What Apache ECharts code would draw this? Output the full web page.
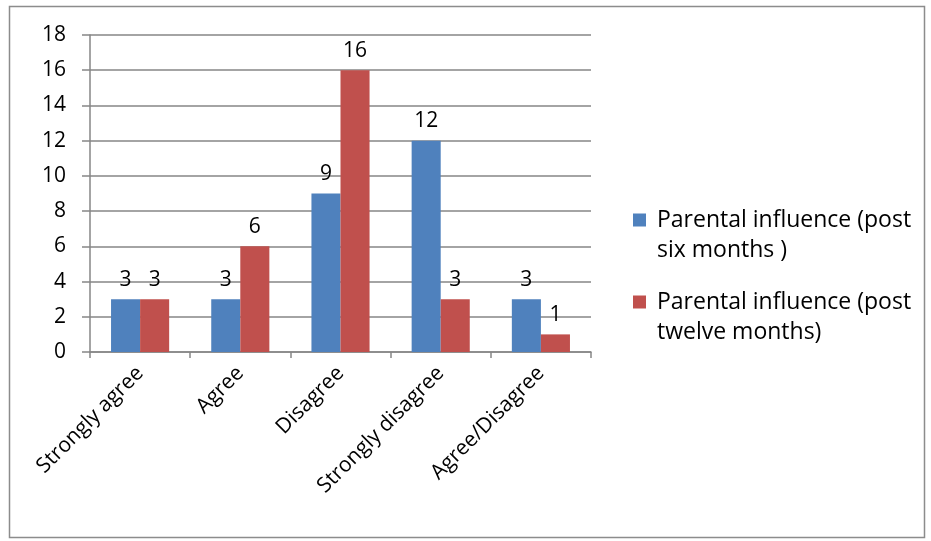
<!DOCTYPE html>
<html><head><meta charset="utf-8">
<script src="https://cdn.jsdelivr.net/npm/echarts@6/dist/echarts.min.js"></script>
<style>html,body{margin:0;padding:0;background:#fff}#c{width:931px;height:541px}</style>
</head><body><div id="c"></div>
<script>
var categories = ['Strongly agree', 'Agree', 'Disagree', 'Strongly disagree', 'Agree/Disagree'];
var sixMonths = [3, 3, 9, 12, 3];
var twelveMonths = [3, 6, 16, 3, 1];
var seriesNames = ['Parental influence (post six months )', 'Parental influence (post twelve months)'];
var legendLabels = {};
legendLabels[seriesNames[0]] = '\n Parental influence (post\n six months )';
legendLabels[seriesNames[1]] = '\n Parental influence (post\n twelve months)';

var font = '"Open Sans", "Noto Sans", sans-serif';
var chart = echarts.init(document.getElementById('c'), null, {renderer: 'canvas'});
chart.setOption({
  animation: false,
  textStyle: {fontFamily: font},
  graphic: [{type: 'rect', shape: {x: 9.5, y: 6.5, width: 915, height: 531}, style: {fill: 'none', stroke: '#8c8c8c', lineWidth: 1.5}, silent: true}],
  grid: {left: 90, right: 340, top: 35, bottom: 189},
  legend: {
    orient: 'vertical', left: 628, top: 170, itemWidth: 13, itemHeight: 13, itemGap: -8,
    data: seriesNames,
    formatter: function (n) { return legendLabels[n]; },
    textStyle: {fontSize: 23, color: '#000', fontFamily: font, lineHeight: 30},
    icon: 'rect'
  },
  xAxis: {
    type: 'category', data: categories,
    axisLine: {lineStyle: {color: '#868686', width: 1.5}},
    axisTick: {show: true, length: 6, lineStyle: {color: '#868686', width: 1.5}},
    axisLabel: {rotate: 45, fontSize: 21, color: '#000', margin: 18, interval: 0, fontFamily: font}
  },
  yAxis: {
    type: 'value', min: 0, max: 18, interval: 2,
    axisLine: {show: true, lineStyle: {color: '#868686', width: 1.5}},
    axisTick: {show: true, length: 8, inside: false, lineStyle: {color: '#868686', width: 1.5}},
    splitLine: {lineStyle: {color: '#868686', width: 1.5}},
    axisLabel: {fontSize: 21, color: '#000', margin: 24, fontFamily: font}
  },
  series: [
    {name: seriesNames[0], type: 'bar', data: sixMonths, barGap: '0%', barCategoryGap: '42%',
     itemStyle: {color: '#4F81BD'},
     label: {show: true, position: 'top', fontSize: 21, color: '#000', distance: 9, fontFamily: font}},
    {name: seriesNames[1], type: 'bar', data: twelveMonths, barGap: '0%', barCategoryGap: '42%',
     itemStyle: {color: '#C0504D'},
     label: {show: true, position: 'top', fontSize: 21, color: '#000', distance: 9, fontFamily: font}}
  ]
});
</script></body></html>
